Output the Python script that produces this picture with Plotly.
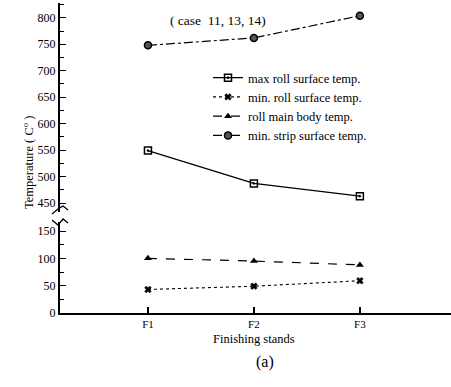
import plotly.graph_objects as go

stands = ["F1", "F2", "F3"]
stand_pos = [1, 2, 3]
max_roll_surface = [549, 487, 463]
min_roll_surface = [43, 49, 59]
roll_main_body = [100, 95, 88]
min_strip_surface = [748, 762, 804]

upper_ticks = [450, 500, 550, 600, 650, 700, 750, 800]
lower_ticks = [0, 50, 100, 150]

W, H = 451, 387
L, R, T, B = 60, 0, 3, 74
PW, PH = W - L - R, H - T - B


def px(x):
    return (x - L) / PW


def py(y):
    return (H - B - y) / PH


FONT = "Liberation Serif, Times New Roman, serif"
fig = go.Figure()

fig.add_trace(go.Scatter(x=stand_pos, y=max_roll_surface, yaxis="y2", mode="lines+markers",
                         name="max roll surface temp.",
                         line=dict(color="black", width=1.3, dash="solid"),
                         marker=dict(symbol="square-open-dot", size=7, color="black",
                                     line=dict(width=1.5, color="black"))))
fig.add_trace(go.Scatter(x=stand_pos, y=min_roll_surface, yaxis="y", mode="lines+markers",
                         name="min. roll surface temp.",
                         line=dict(color="black", width=1.1, dash="dot"),
                         marker=dict(symbol="x", size=6, color="black",
                                     line=dict(width=0.4, color="black"))))
fig.add_trace(go.Scatter(x=stand_pos, y=roll_main_body, yaxis="y", mode="lines+markers",
                         name="roll main body temp.",
                         line=dict(color="black", width=1.2, dash="dash"),
                         marker=dict(symbol="triangle-up", size=7, color="black")))
fig.add_trace(go.Scatter(x=stand_pos, y=min_strip_surface, yaxis="y2", mode="lines+markers",
                         name="min. strip surface temp.",
                         line=dict(color="black", width=1.2, dash="dashdot"),
                         marker=dict(symbol="circle", size=7, color="#555555",
                                     line=dict(width=1.5, color="black"))))

shapes = []
for pts in ([(52, 214), (58, 209), (63, 206), (68, 210)],
            [(52, 220), (58, 225), (63, 219), (68, 223)]):
    path = "M " + " L ".join("{:.4f},{:.4f}".format(px(a), py(b)) for a, b in pts)
    shapes.append(dict(type="path", xref="paper", yref="paper", path=path,
                       line=dict(color="black", width=1.3)))

axis_common = dict(showline=True, linecolor="black", linewidth=2, showgrid=False, zeroline=False,
                   ticks="inside", ticklen=6, tickwidth=1.2, tickcolor="black",
                   tickfont=dict(family=FONT, size=12, color="black"),
                   minor=dict(ticks="inside", dtick=25, ticklen=4, tickwidth=1, tickcolor="black"))

fig.update_layout(
    width=W, height=H,
    margin=dict(l=L, r=R, t=T, b=B),
    paper_bgcolor="white", plot_bgcolor="white",
    font=dict(family=FONT, color="black"),
    xaxis=dict(range=[0.17, 3.86], tickvals=stand_pos, ticktext=stands, showline=True,
               linecolor="black", linewidth=1.5, showgrid=False, zeroline=False,
               ticks="inside", ticklen=6, tickwidth=1.5, tickcolor="black",
               tickfont=dict(family=FONT, size=11, color="black"), anchor="y"),
    yaxis=dict(domain=[0, py(222)], range=[0, 166.5], tickvals=lower_ticks, anchor="x",
               **axis_common),
    yaxis2=dict(domain=[py(212), 1], range=[433, 828], tickvals=upper_ticks, anchor="x",
                **axis_common),
    legend=dict(x=px(208), y=py(63), xanchor="left", yanchor="top",
                font=dict(family=FONT, size=12.5, color="black"), bgcolor="rgba(0,0,0,0)",
                itemwidth=30, tracegroupgap=0),
    shapes=shapes,
    annotations=[
        dict(text="( case  11, 13, 14)", xref="paper", yref="paper", x=px(218), y=py(11),
             showarrow=False, font=dict(family=FONT, size=13.5)),
        dict(text="Temperature ( C<sup>o</sup> )", xref="paper", yref="paper", x=px(18), y=py(163),
             showarrow=False, textangle=-90, font=dict(family=FONT, size=12.5)),
        dict(text="Finishing stands", xref="paper", yref="paper", x=px(254), y=py(348),
             showarrow=False, font=dict(family=FONT, size=12.5)),
        dict(text="(a)", xref="paper", yref="paper", x=px(265), y=py(373),
             showarrow=False, font=dict(family=FONT, size=16)),
    ],
)

fig.write_html("out.html")
